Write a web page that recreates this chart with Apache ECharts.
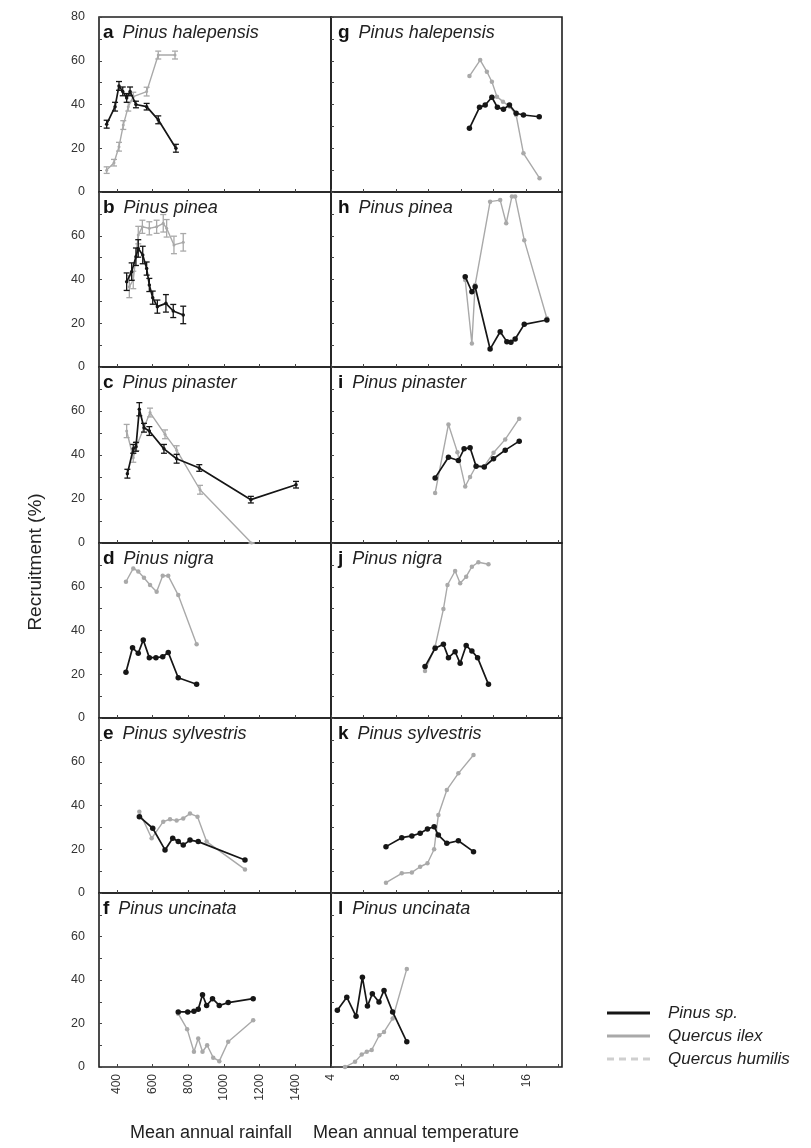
<!DOCTYPE html>
<html>
<head>
<meta charset="utf-8">
<script src="https://cdn.jsdelivr.net/npm/echarts@6/dist/echarts.min.js"></script>
<style>
html,body{margin:0;padding:0;background:#fff}
#chart{width:811px;height:1148px}
</style>
</head>
<body>
<div id="chart"></div>
<script>
// Recruitment (%) of pines and oaks along rainfall (a–f, mm) and temperature (g–l, °C) gradients
const panelLetters = ['a','b','c','d','e','f','g','h','i','j','k','l'];
const speciesNames = ['Pinus halepensis','Pinus pinea','Pinus pinaster','Pinus nigra','Pinus sylvestris','Pinus uncinata'];
const rainfallLabels = [400,600,800,1000,1200,1400];
const rainfallTicks = [400,600,800,1000,1200,1400];
const temperatureLabels = [4,8,12,16];
const temperatureTicks = [4,6,8,10,12,14,16,18];
const legendNames = ['Pinus sp.','Quercus ilex','Quercus humilis'];
const yName = 'Recruitment (%)';
const xNames = ['Mean annual rainfall','Mean annual temperature'];

// rainfall (mm) vs recruitment (%)
const aPinus = [[343,31],[390,39],[412,48.5],[433,46],[455,43],[474,46],[507,40],[567,39],[632,33],[731,20]];
const aPinusErr = [1.8,2,2,2,2,2,1.5,1.5,1.8,1.8];
const aQuercus = [[343,10],[384,13.4],[412,20.7],[436,30.6],[464,39],[492,43.6],[567,45.9],[632,62.6],[726,62.6]];
const aQuercusErr = [1.5,1.5,2,2,2,2,2,1.8,1.8];

const bPinus = [[455,39],[483,43.6],[507,50.4],[520,54.2],[545,51.2],[567,45],[582,37.5],[601,31.7],[627,27.6],[675,29.1],[716,25.6],[772,23.8]];
const bPinusErr = [4,4,4,4,4,3,3,3,3,4,3,4];
const bQuercus = [[470,36.7],[492,39.8],[520,60.3],[543,64.1],[582,63.4],[623,64.1],[660,65.7],[679,63.4],[720,55.8],[772,57]];
const bQuercusErr = [5,4,4,3,3,3,4,4,4,4];

const cPinus = [[459,31.5],[492,42.8],[507,43.7],[526,60.8],[552,52.4],[582,50.9],[664,42.8],[735,38.3],[862,34.1],[1151,19.7],[1404,26.5]];
const cPinusErr = [2,2,2,3,2,2,2,2,1.5,1.5,1.5];
const cQuercus = [[455,50.9],[492,38.7],[510,44],[586,59.3],[670,49.4],[735,42.2],[866,24.2],[1155,0]];
const cQuercusErr = [3,2,2,2,2,2,2,0];

const dPinus = [[451,20.9],[488,32.1],[520,29.6],[548,35.7],[582,27.6],[619,27.6],[657,28],[688,30],[744,18.4],[847,15.4]];
const dQuercus = [[451,62.3],[492,68.4],[520,67],[552,64.1],[586,60.8],[623,57.7],[657,65],[688,65],[744,56.2],[847,33.7]];

const ePinus = [[526,34.9],[601,29.6],[670,19.7],[713,25],[744,23.5],[772,21.9],[810,24.2],[856,23.5],[1118,15.1]];
const eQuercus = [[526,37.2],[595,25],[660,32.6],[698,33.7],[735,33.1],[772,34.1],[810,36.3],[852,34.9],[903,23.5],[1118,10.8]];

const fPinus = [[744,25.3],[797,25.3],[832,25.6],[856,26.5],[880,33.2],[903,28.3],[936,31.4],[974,28.3],[1024,29.6],[1164,31.4]];
const fQuercus = [[744,24.5],[794,17.4],[832,7],[856,13.1],[880,7],[906,10],[940,4.3],[974,2.7],[1024,11.6],[1164,21.5]];

// temperature (°C) vs recruitment (%)
const gPinus = [[12.51,29.1],[13.13,38.7],[13.48,39.8],[13.89,43.3],[14.23,38.7],[14.6,37.8],[14.97,39.8],[15.38,36],[15.83,35.2],[16.8,34.4]];
const gQuercus = [[12.51,53],[13.17,60.3],[13.58,55],[13.89,50.4],[14.2,43.6],[14.57,41.3],[15.0,39],[15.38,35.2],[15.83,17.7],[16.82,6.3]];

const hPinus = [[12.25,41.3],[12.66,34.4],[12.86,36.7],[13.78,8.2],[14.4,16.1],[14.81,11.6],[15.06,11.3],[15.32,12.8],[15.88,19.5],[17.27,21.5]];
const hQuercus = [[12.25,39.8],[12.66,10.8],[12.86,37.5],[13.78,75.6],[14.4,76.3],[14.77,65.7],[15.12,77.9],[15.32,77.9],[15.88,58],[17.27,22.3]];

const iPinus = [[10.4,29.6],[11.22,39],[11.83,37.5],[12.18,42.8],[12.55,43.3],[12.92,34.9],[13.42,34.6],[13.99,38.3],[14.71,42.2],[15.57,46.3]];
const iQuercus = [[10.4,22.7],[11.22,53.9],[11.77,41.3],[12.25,25.7],[12.55,30],[12.92,35],[13.42,34.9],[13.99,41],[14.71,47.1],[15.57,56.5]];

const jPinus = [[9.78,23.5],[10.4,31.9],[10.91,33.7],[11.22,27.6],[11.63,30.3],[11.94,25],[12.31,33.1],[12.66,30.6],[13.01,27.6],[13.68,15.4]];
const jQuercus = [[9.78,21.5],[10.4,32.6],[10.91,49.8],[11.16,60.8],[11.63,67.2],[11.94,61.6],[12.31,64.6],[12.66,69.2],[13.06,71.2],[13.68,70.3]];

const kPinus = [[7.38,21.2],[8.35,25.3],[8.97,26.1],[9.48,27.3],[9.93,29.3],[10.34,30.3],[10.6,26.5],[11.12,22.7],[11.83,23.9],[12.76,18.9]];
const kQuercus = [[7.38,4.7],[8.35,9],[8.97,9.4],[9.48,12],[9.93,13.6],[10.34,20],[10.6,35.7],[11.12,47.1],[11.83,54.7],[12.76,63.1]];

const lPinus = [[4.39,26.1],[4.97,32.1],[5.54,23.3],[5.93,41.3],[6.24,28],[6.54,33.7],[6.95,29.9],[7.26,35.2],[7.79,25.3],[8.66,11.6]];
const lQuercus = [[4.86,0],[5.48,2.4],[5.89,5.8],[6.2,7],[6.5,7.8],[6.97,14.6],[7.26,16.1],[7.79,22.3],[8.66,45.1]];

const panels = [
  {pinus: aPinus, quercus: aQuercus, pinusErr: aPinusErr, quercusErr: aQuercusErr},
  {pinus: bPinus, quercus: bQuercus, pinusErr: bPinusErr, quercusErr: bQuercusErr},
  {pinus: cPinus, quercus: cQuercus, pinusErr: cPinusErr, quercusErr: cQuercusErr},
  {pinus: dPinus, quercus: dQuercus},
  {pinus: ePinus, quercus: eQuercus},
  {pinus: fPinus, quercus: fQuercus},
  {pinus: gPinus, quercus: gQuercus},
  {pinus: hPinus, quercus: hQuercus},
  {pinus: iPinus, quercus: iQuercus},
  {pinus: jPinus, quercus: jQuercus},
  {pinus: kPinus, quercus: kQuercus},
  {pinus: lPinus, quercus: lQuercus}
];

// layout
const FONT = '"Liberation Sans", Arial, Helvetica, sans-serif';
const BLACK = '#161616';
const GREY = '#a9a9a9';
const LIGHT = '#cfcfcf';
const colLeft = [99, 331];
const colWidth = [232, 231];
const rowTop = [17, 192, 367, 543, 718, 893];
const rowHeight = [175, 175, 176, 175, 175, 174];
const xRange = [[300, 1600], [4, 18.2]];

function errorBar(params, api) {
  const x = api.value(0), y = api.value(1), e = api.value(2);
  const hi = api.coord([x, y + e]);
  const lo = api.coord([x, y - e]);
  const cap = 3;
  const style = {stroke: api.visual('color'), lineWidth: 1.3};
  return {type: 'group', children: [
    {type: 'line', shape: {x1: hi[0], y1: hi[1], x2: lo[0], y2: lo[1]}, style},
    {type: 'line', shape: {x1: hi[0] - cap, y1: hi[1], x2: hi[0] + cap, y2: hi[1]}, style},
    {type: 'line', shape: {x1: lo[0] - cap, y1: lo[1], x2: lo[0] + cap, y2: lo[1]}, style}
  ]};
}

const grid = [], xAxis = [], yAxis = [], series = [], graphic = [];

panels.forEach((p, i) => {
  const col = Math.floor(i / 6), row = i % 6;
  grid.push({
    left: colLeft[col], top: rowTop[row], width: colWidth[col], height: rowHeight[row],
    show: true, borderColor: '#1e1e1e', borderWidth: 1.6, backgroundColor: 'transparent',
    containLabel: false
  });
  xAxis.push({
    gridIndex: i, type: 'value', min: xRange[col][0], max: xRange[col][1],
    axisLine: {show: false}, splitLine: {show: false},
    axisTick: {show: true, inside: true, length: 3, customValues: col ? temperatureTicks : rainfallTicks,
      lineStyle: {color: '#444', width: 1}},
    axisLabel: {show: row === 5, rotate: 90, margin: 7, customValues: col ? temperatureLabels : rainfallLabels,
      fontFamily: FONT, fontSize: 12, color: '#333', formatter: v => String(v)}
  });
  yAxis.push({
    gridIndex: i, type: 'value', min: 0, max: 80, interval: 10,
    axisLine: {show: false}, splitLine: {show: false},
    axisTick: {show: true, inside: true, length: 3, lineStyle: {color: '#444', width: 1}},
    axisLabel: {show: col === 0, margin: 14, fontFamily: FONT, fontSize: 12.5, color: '#333',
      formatter: v => (v % 20 === 0 && (v < 80 || row === 0)) ? String(v) : ''}
  });

  const withBars = !!p.pinusErr;
  series.push({
    type: 'line', xAxisIndex: i, yAxisIndex: i, data: p.quercus, z: 3,
    symbol: 'circle', symbolSize: withBars ? 3 : 4.5, showSymbol: true,
    lineStyle: {color: GREY, width: 1.4}, itemStyle: {color: GREY},
    emphasis: {disabled: true}, animation: false, clip: true
  });
  series.push({
    type: 'line', xAxisIndex: i, yAxisIndex: i, data: p.pinus, z: 4,
    symbol: 'circle', symbolSize: withBars ? 3.5 : 5.5, showSymbol: true,
    lineStyle: {color: BLACK, width: 1.7}, itemStyle: {color: BLACK},
    emphasis: {disabled: true}, animation: false, clip: true
  });
  if (withBars) {
    series.push({
      type: 'custom', xAxisIndex: i, yAxisIndex: i, renderItem: errorBar, z: 3,
      itemStyle: {color: GREY}, encode: {x: 0, y: 1}, animation: false,
      data: p.quercus.map((d, k) => [d[0], d[1], p.quercusErr[k]])
    });
    series.push({
      type: 'custom', xAxisIndex: i, yAxisIndex: i, renderItem: errorBar, z: 4,
      itemStyle: {color: BLACK}, encode: {x: 0, y: 1}, animation: false,
      data: p.pinus.map((d, k) => [d[0], d[1], p.pinusErr[k]])
    });
  }

  // panel heading: letter + species
  graphic.push({
    type: 'text', x: colLeft[col] + (col ? 7 : 4), y: rowTop[row] + 16,
    style: {
      text: '{l|' + panelLetters[i] + '}{s|' + speciesNames[row] + '}',
      verticalAlign: 'middle', textVerticalAlign: 'middle',
      rich: {
        l: {fontSize: 19, fontWeight: 'bold', fontFamily: FONT, fill: '#111', color: '#111'},
        s: {fontSize: 18, fontStyle: 'italic', fontFamily: FONT, fill: '#222', color: '#222', padding: [0, 0, 0, 9]}
      }
    }
  });
});

// axis titles
graphic.push({
  type: 'text', x: 36, y: 562, rotation: Math.PI / 2,
  style: {text: yName, fontSize: 19, fontFamily: FONT, fill: '#222',
    align: 'center', textAlign: 'center', verticalAlign: 'middle', textVerticalAlign: 'middle'}
});
graphic.push({
  type: 'text', x: 211, y: 1133,
  style: {text: xNames[0], fontSize: 18, fontFamily: FONT, fill: '#222',
    align: 'center', textAlign: 'center', verticalAlign: 'middle', textVerticalAlign: 'middle'}
});
graphic.push({
  type: 'text', x: 313, y: 1133,
  style: {text: xNames[1], fontSize: 18, fontFamily: FONT, fill: '#222',
    align: 'left', textAlign: 'left', verticalAlign: 'middle', textVerticalAlign: 'middle'}
});

// legend
const legendStyles = [
  {stroke: BLACK, lineWidth: 3},
  {stroke: GREY, lineWidth: 3},
  {stroke: LIGHT, lineWidth: 3, lineDash: [7, 5]}
];
const legendY = [1013, 1036, 1059];
legendNames.forEach((name, k) => {
  graphic.push({type: 'line', shape: {x1: 607, y1: legendY[k], x2: 650, y2: legendY[k]}, style: legendStyles[k]});
  graphic.push({type: 'text', x: 668, y: legendY[k],
    style: {text: name, fontSize: 17, fontStyle: 'italic', fontFamily: FONT, fill: '#222',
      verticalAlign: 'middle', textVerticalAlign: 'middle'}});
});

const chart = echarts.init(document.getElementById('chart'), null, {renderer: 'canvas'});
chart.setOption({
  animation: false,
  backgroundColor: '#fff',
  grid, xAxis, yAxis, series, graphic
});
</script>
</body>
</html>
